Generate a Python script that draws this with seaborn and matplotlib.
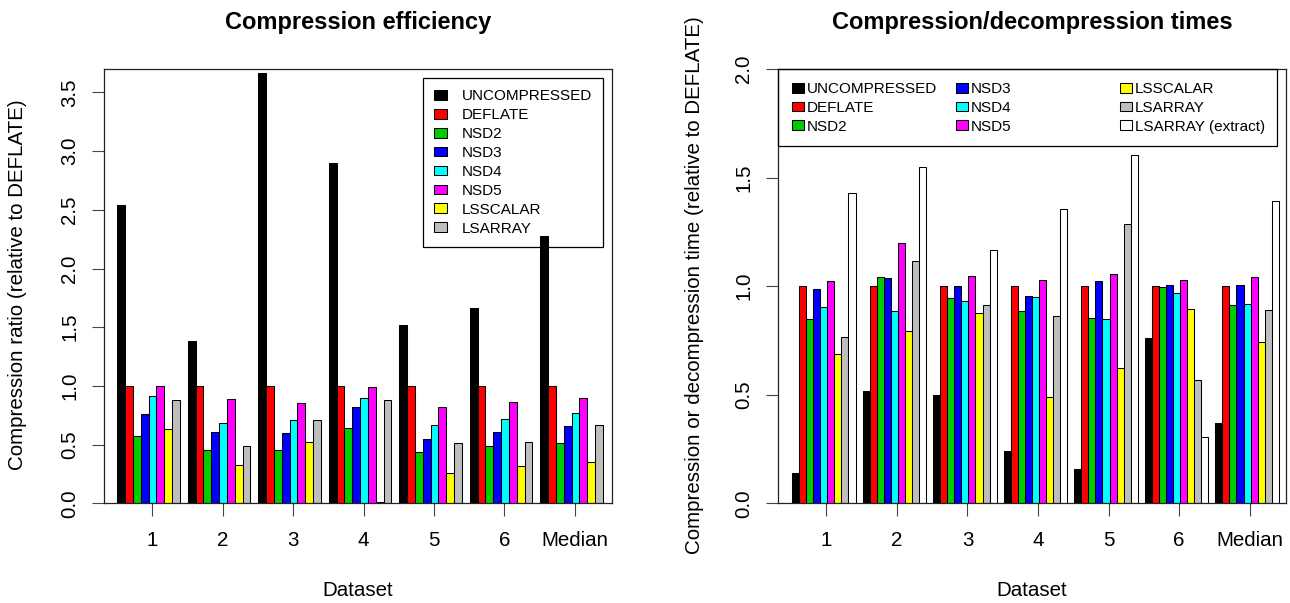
import numpy as np
import pandas as pd
import seaborn as sns
import matplotlib.pyplot as plt
from matplotlib.patches import Patch, Rectangle

# ---- data ----
datasets = ["1", "2", "3", "4", "5", "6", "Median"]

ratio_methods = ["UNCOMPRESSED", "DEFLATE", "NSD2", "NSD3", "NSD4", "NSD5", "LSSCALAR", "LSARRAY"]
ratio_uncompressed = [2.54, 1.38, 3.67, 2.90, 1.52, 1.66, 2.28]
ratio_deflate = [1.00, 1.00, 1.00, 1.00, 1.00, 1.00, 1.00]
ratio_nsd2 = [0.57, 0.45, 0.45, 0.645, 0.44, 0.49, 0.51]
ratio_nsd3 = [0.76, 0.61, 0.60, 0.82, 0.545, 0.61, 0.66]
ratio_nsd4 = [0.91, 0.68, 0.71, 0.90, 0.67, 0.715, 0.77]
ratio_nsd5 = [1.00, 0.89, 0.855, 0.99, 0.82, 0.86, 0.90]
ratio_lsscalar = [0.63, 0.33, 0.52, 0.015, 0.26, 0.32, 0.35]
ratio_lsarray = [0.88, 0.49, 0.71, 0.88, 0.51, 0.52, 0.665]

time_methods = ratio_methods + ["LSARRAY (extract)"]
time_uncompressed = [0.14, 0.518, 0.50, 0.24, 0.158, 0.763, 0.371]
time_deflate = [1.00, 1.00, 1.00, 1.00, 1.00, 1.00, 1.00]
time_nsd2 = [0.848, 1.043, 0.945, 0.885, 0.852, 0.997, 0.914]
time_nsd3 = [0.989, 1.037, 1.00, 0.954, 1.026, 1.006, 1.003]
time_nsd4 = [0.905, 0.886, 0.932, 0.951, 0.849, 0.969, 0.918]
time_nsd5 = [1.025, 1.20, 1.049, 1.029, 1.055, 1.029, 1.04]
time_lsscalar = [0.688, 0.795, 0.878, 0.489, 0.623, 0.895, 0.742]
time_lsarray = [0.765, 1.115, 0.914, 0.862, 1.286, 0.568, 0.888]
time_lsarray_extract = [1.43, 1.55, 1.165, 1.357, 1.605, 0.305, 1.394]

colors = ["#000000", "#FF0000", "#00CD00", "#0000FF", "#00FFFF",
          "#FF00FF", "#FFFF00", "#BEBEBE", "#FFFFFF"]

ratio_series = [ratio_uncompressed, ratio_deflate, ratio_nsd2, ratio_nsd3,
                ratio_nsd4, ratio_nsd5, ratio_lsscalar, ratio_lsarray]
time_series = [time_uncompressed, time_deflate, time_nsd2, time_nsd3, time_nsd4,
               time_nsd5, time_lsscalar, time_lsarray, time_lsarray_extract]


def long_frame(methods, series):
    rows = []
    for m, vals in zip(methods, series):
        for d, v in zip(datasets, vals):
            rows.append({"Dataset": d, "Method": m, "value": v})
    return pd.DataFrame(rows)


df_ratio = long_frame(ratio_methods, ratio_series)
df_time = long_frame(time_methods, time_series)

sns.set_style("white")
plt.rcParams["font.family"] = ["Liberation Sans", "DejaVu Sans"]
plt.rcParams["text.color"] = "black"
plt.rcParams["axes.labelcolor"] = "black"
plt.rcParams["xtick.color"] = "black"
plt.rcParams["ytick.color"] = "black"

W, H = 1290, 603
FS = 14.8
fig = plt.figure(figsize=(W / 100, H / 100), dpi=100)


def px_axes(x0, x1, ytop, ybot):
    return [x0 / W, 1 - ybot / H, (x1 - x0) / W, (ybot - ytop) / H]


def draw_panel(ax, df, methods, ylim, yticks, xlim, tick_off):
    n = len(methods)
    sns.barplot(data=df, x="Dataset", y="value", hue="Method", order=datasets,
                hue_order=methods, palette=colors[:n], width=n / (n + 1),
                saturation=1, edgecolor="black", linewidth=0.75,
                errorbar=None, legend=False, ax=ax)
    ax.set_xlim(*xlim)
    ax.set_ylim(*ylim)
    ax.set_xticks(np.arange(len(datasets)) + tick_off, datasets)
    ax.set_yticks(yticks, [f"{t:.1f}" for t in yticks])
    plt.setp(ax.get_yticklabels(), rotation=90, va="center")
    ax.tick_params(axis="both", direction="out", length=9, width=0.8,
                   color="#444444", labelcolor="black", labelsize=FS,
                   left=True, bottom=True)
    ax.tick_params(axis="y", pad=9)
    ax.tick_params(axis="x", pad=11)
    for s in ax.spines.values():
        s.set_visible(True)
        s.set_color("#222222")
        s.set_linewidth(0.9)
    ax.set_xlabel("")
    ax.set_ylabel("")


# left panel
ax1 = fig.add_axes(px_axes(104.3, 612, 69, 503.3))
draw_panel(ax1, df_ratio, ratio_methods, (0, 3.70), np.arange(0, 3.51, 0.5),
           (-0.629, 6.573), 0.048)

# right panel
ax2 = fig.add_axes(px_axes(778.3, 1286, 69, 503.3))
draw_panel(ax2, df_time, time_methods, (0, 2.0), np.arange(0, 2.01, 0.5),
           (-0.645, 6.552), 0.036)

# titles and axis labels
fig.text((104.3 + 612) / 2 / W, 1 - 28.5 / H, "Compression efficiency",
         ha="center", va="baseline", fontsize=17, fontweight="bold")
fig.text((778.3 + 1286) / 2 / W, 1 - 28.5 / H, "Compression/decompression times",
         ha="center", va="baseline", fontsize=17, fontweight="bold")
fig.text((104.3 + 612) / 2 / W, 1 - 596 / H, "Dataset",
         ha="center", va="baseline", fontsize=FS)
fig.text((778.3 + 1286) / 2 / W, 1 - 596 / H, "Dataset",
         ha="center", va="baseline", fontsize=FS)
fig.text(18 / W, 1 - 285 / H, "Compression ratio (relative to DEFLATE)",
         rotation=90, ha="center", va="center", fontsize=FS)
fig.text(694 / W, 1 - 285 / H, "Compression or decompression time (relative to DEFLATE)",
         rotation=90, ha="center", va="center", fontsize=FS)

# left legend (transparent box, bars show through)
h1 = [Patch(facecolor=c, edgecolor="black", linewidth=0.75) for c in colors[:8]]
leg1 = ax1.legend(h1, ratio_methods, loc="upper right",
                  bbox_to_anchor=(603.3 / W, 1 - 78.3 / H),
                  bbox_transform=fig.transFigure, borderaxespad=0,
                  frameon=True, fancybox=False, edgecolor="black",
                  facecolor="none", framealpha=1, fontsize=11,
                  handlelength=0.85, handleheight=0.6, handletextpad=1.0,
                  labelspacing=0.32, borderpad=0.72)
leg1.get_frame().set_linewidth(0.9)

# right legend: three columns at fixed positions plus one frame
h2 = [Patch(facecolor=c, edgecolor="black", linewidth=0.75) for c in colors]
col_x = [792, 956, 1120]
for k in range(3):
    fig.legend(h2[3 * k:3 * k + 3], time_methods[3 * k:3 * k + 3],
               loc="center left", bbox_to_anchor=(col_x[k] / W, 1 - 108 / H),
               bbox_transform=fig.transFigure, borderaxespad=0, borderpad=0,
               frameon=False, fontsize=11, handlelength=0.8, handleheight=0.6,
               handletextpad=0.15, labelspacing=0.3)
fig.patches.append(Rectangle((778.3 / W, 1 - 146 / H), (1277 - 778.3) / W, (146 - 69) / H,
                             transform=fig.transFigure, fill=False,
                             edgecolor="black", linewidth=0.9, zorder=5))

fig.savefig("out.png", dpi=100, facecolor="white")
